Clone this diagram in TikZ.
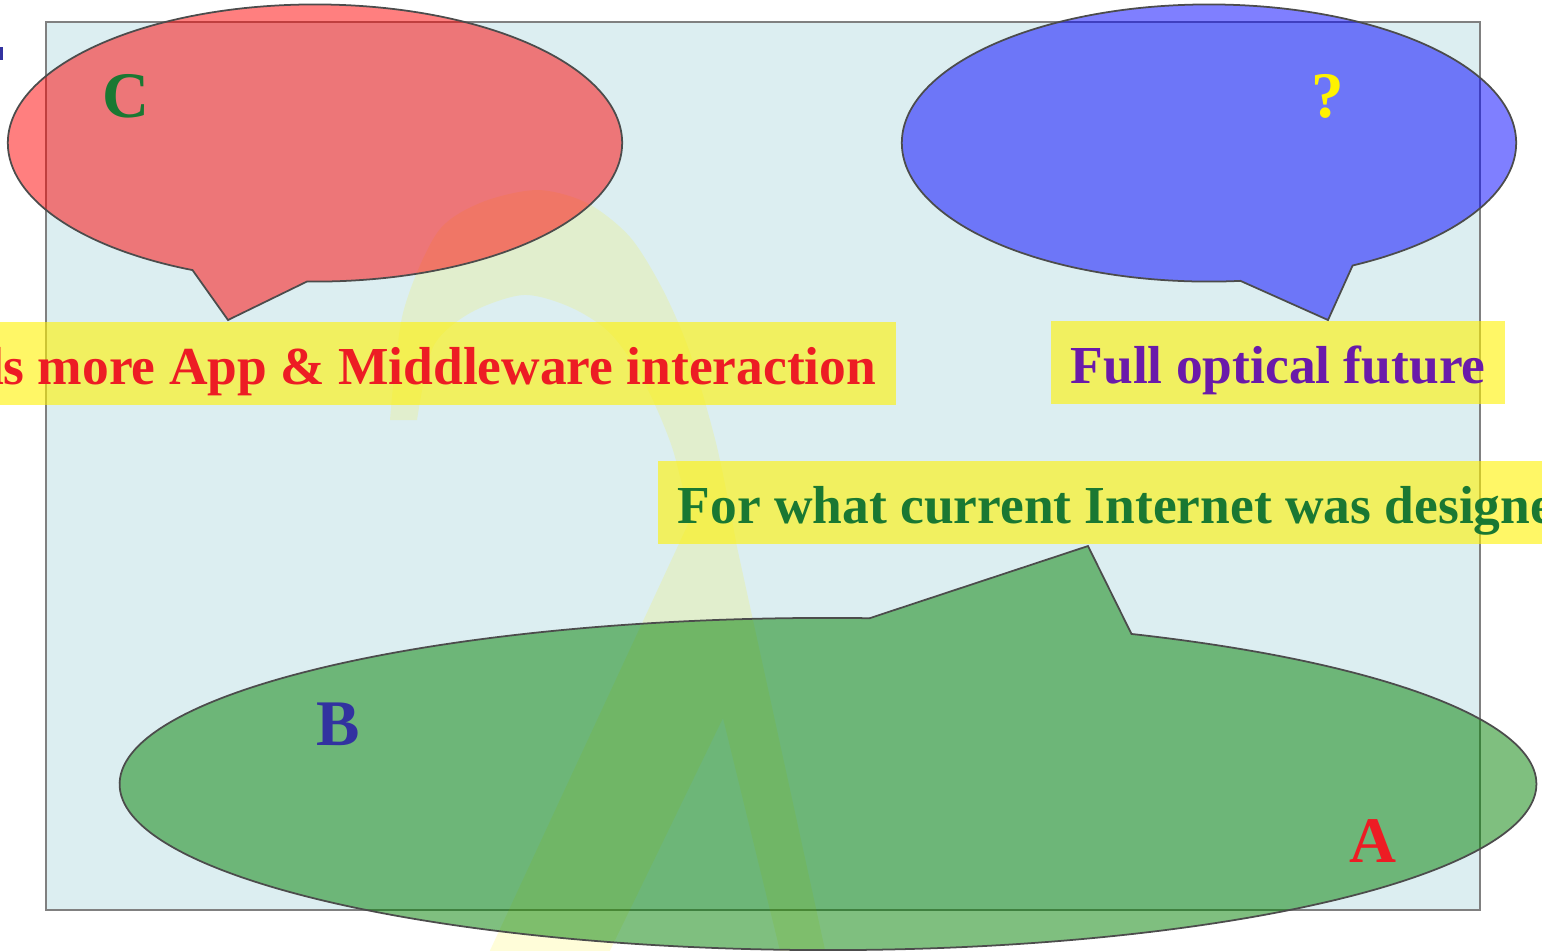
\documentclass[tikz,border=0pt]{standalone}
\usepackage{fontspec}
\setmainfont{Liberation Serif}
\usetikzlibrary{shapes.callouts}
\definecolor{labelred}{RGB}{237,28,36}
\definecolor{labelpurple}{RGB}{106,26,170}
\definecolor{labelgreen}{RGB}{26,120,50}
\definecolor{labelnavy}{RGB}{50,50,160}
\definecolor{panelbg}{RGB}{220,238,241}

\tikzset{
  bubble/.style={ellipse callout, draw=black!70, line width=0.5pt, fill opacity=0.5,
    minimum width=6.14cm, minimum height=2.77cm, callout pointer arc=22, inner sep=0pt},
  tag/.style={fill=yellow, fill opacity=0.6, text opacity=1, inner xsep=0.2cm, inner ysep=0.21cm,
    text height=0.41cm, text depth=0pt, font=\fontsize{15.2}{18}\selectfont\bfseries},
  letter/.style={font=\fontsize{18.5}{22}\selectfont\bfseries, inner sep=0pt},
}

\begin{document}
\begin{tikzpicture}[x=0.01cm, y=0.01cm]
    \useasboundingbox (0,0) rectangle (1542,-950);

    % panel
    \draw[gray, line width=0.8pt, fill=panelbg] (46,-22) rectangle (1480,-910);
    \fill[labelnavy] (0,-47) rectangle (3,-60);

    % faint curved band behind the bubbles
    \fill[yellow, fill opacity=0.15]
        plot[smooth] coordinates {(390,-420) (403,-313) (437,-233) (480,-203) (537,-190)
            (587,-203) (630,-237) (663,-290) (690,-353) (717,-447) (737,-547)}
        -- (836,-1000) -- (792,-1000) -- (723,-718) -- (586,-1000) -- (467,-1000)
        -- plot[smooth] coordinates {(690,-520) (672,-447) (643,-380) (610,-333) (570,-307)
            (523,-295) (470,-313) (433,-347) (417,-420)}
        -- cycle;

    % speech bubbles
    \node[bubble, fill=red, callout absolute pointer={(228,-320)}] (appbubble) at (315,-143) {};
    \node[bubble, fill=blue, callout absolute pointer={(1328,-320)}] (opticbubble) at (1209,-143) {};
    \node[bubble, fill=green!50!black, minimum width=14.16cm, minimum height=3.32cm,
        callout absolute pointer={(1088,-546)}] (netbubble) at (828,-784) {};

    \node[letter, text=labelgreen, anchor=base] (c) at (126,-117) {C};
    \node[letter, text=yellow, anchor=base] (q) at (1328,-117) {?};
    \node[letter, text=labelnavy, anchor=base] (b) at (338,-745) {B};
    \node[letter, text=labelred, anchor=base] (a) at (1373,-862) {A};

    % labels
    \node[tag, text=labelred, anchor=base east] (apptag) at (897,-384) {Needs more App \& Middleware interaction};
    \node[tag, text=labelpurple, anchor=base west] (optictag) at (1050,-383) {Full optical future};
    \node[tag, text=labelgreen, anchor=base west] (nettag) at (657,-523) {For what current Internet was designed};
\end{tikzpicture}
\end{document}
